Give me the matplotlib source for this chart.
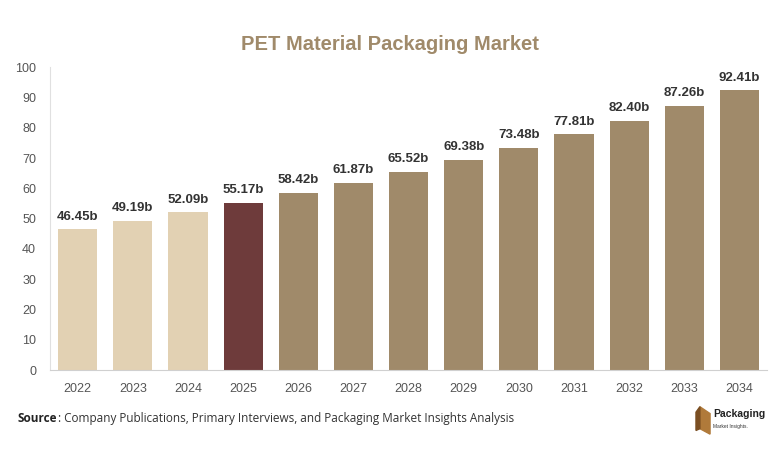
import matplotlib.pyplot as plt
from matplotlib.patches import Polygon

years = ["2022", "2023", "2024", "2025", "2026", "2027", "2028",
         "2029", "2030", "2031", "2032", "2033", "2034"]
values = [46.45, 49.19, 52.09, 55.17, 58.42, 61.87, 65.52,
          69.38, 73.48, 77.81, 82.40, 87.26, 92.41]
colors = ["#E2D1B3"] * 3 + ["#6E3B3B"] + ["#A08A6A"] * 9

plt.rcParams['font.family'] = ['Liberation Sans', 'DejaVu Sans']

fig = plt.figure(figsize=(7.82, 4.57), dpi=100)
ax = fig.add_axes([0.064, 0.19, 0.917, 0.663])

x = range(len(years))
ax.bar(x, values, width=0.71, color=colors, zorder=2)
for i, v in enumerate(values):
    ax.text(i, v + 2.2, "%.2fb" % v, ha="center", va="bottom",
            fontsize=9.5, fontweight="bold", color="#333333")

ax.set_xlim(-0.5, len(years) - 0.5)
ax.set_ylim(0, 100)
ax.set_yticks(range(0, 101, 10))
ax.set_xticks(list(x))
ax.set_xticklabels(years)
ax.tick_params(axis="both", length=0, labelsize=9, colors="#555555")
ax.tick_params(axis="x", pad=9)
ax.tick_params(axis="y", pad=10)
for s in ["top", "right"]:
    ax.spines[s].set_visible(False)
ax.spines["left"].set_color("#E0E0E0")
ax.spines["bottom"].set_color("#D0D0D0")

fig.text(0.499, 0.902, "PET Material Packaging Market", ha="center", va="center",
         fontsize=14.5, fontweight="bold", color="#A08A6A")

fig.text(0.022, 0.085, "Source", ha="left", va="center", fontsize=8.5,
         fontweight="bold", color="#222222", family="Open Sans")
fig.text(0.074, 0.085, ": Company Publications, Primary Interviews, and Packaging Market Insights Analysis",
         ha="left", va="center", fontsize=8.5, color="#333333", family="Open Sans")

# logo
fig.patches.append(Polygon([[0.895, 0.110], [0.908, 0.095], [0.908, 0.050], [0.895, 0.062]],
                           closed=True, transform=fig.transFigure, color="#B07A3A"))
fig.patches.append(Polygon([[0.895, 0.110], [0.890, 0.098], [0.890, 0.058], [0.895, 0.062]],
                           closed=True, transform=fig.transFigure, color="#7A4E22"))
fig.text(0.912, 0.093, "Packaging", ha="left", va="center", fontsize=7.5,
         fontweight="bold", color="#222222")
fig.text(0.912, 0.066, "Market Insights.", ha="left", va="center", fontsize=3.5,
         color="#333333")

plt.savefig("out.png", dpi=100)
plt.close()
